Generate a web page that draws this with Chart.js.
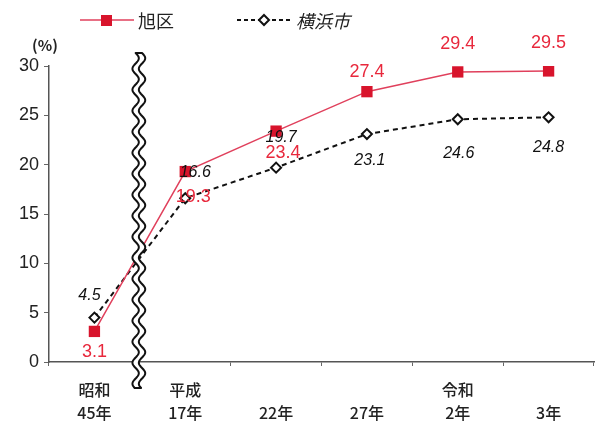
<!DOCTYPE html>
<html>
<head>
<meta charset="utf-8">
<script src="https://cdn.jsdelivr.net/npm/chart.js@4"></script>
<style>
  html, body { margin: 0; padding: 0; background: #fff; }
  #chart { display: block; }
</style>
</head>
<body>
<canvas id="chart" width="602" height="426"></canvas>
<script>
const categories = [['昭和', '45年'], ['平成', '17年'], ['', '22年'], ['', '27年'], ['令和', '2年'], ['', '3年']];
const asahiValues = [3.1, 19.3, 23.4, 27.4, 29.4, 29.5];
const yokohamaValues = [4.5, 16.6, 19.7, 23.1, 24.6, 24.8];
const seriesNames = ['旭区', '横浜市'];
const yTickStep = 5;
const yMax = 30;

// label nudges (px) so the value labels sit where the original puts them
const asahiLabelOffsets = [[0, 21], [8, 25], [7, 22], [0, -20], [0, -28], [0, -28]];
const yokohamaLabelOffsets = [[-5, -22], [10, -26], [5, -30], [3, 26], [1, 34], [0, 30]];

const RED = '#d8142c';
const RED_LINE = '#e0405c';
const RED_TEXT = '#e8283c';
const NUM_FONT = "'Liberation Sans', 'Noto Sans CJK JP', sans-serif";
const JP_FONT = "'Noto Sans CJK JP', 'Liberation Sans', sans-serif";

const extrasPlugin = {
  id: 'extras',
  afterDatasetsDraw(chart) {
    const ctx = chart.ctx;
    const x = chart.scales.x;

    // broken-axis wavy band between the first two categories
    const bx = (x.getPixelForValue(0) + x.getPixelForValue(1)) / 2 - 1;
    const top = 53, bottom = 388, amp = 3.2, period = 21, gap = 3.2;
    const wave = (y, side) => bx + side * gap + amp * Math.sin((y - top) / period * 2 * Math.PI);
    ctx.save();
    ctx.beginPath();
    for (let y = top; y <= bottom; y += 1) ctx.lineTo(wave(y, -1), y);
    for (let y = bottom; y >= top; y -= 1) ctx.lineTo(wave(y, 1), y);
    ctx.closePath();
    ctx.fillStyle = '#fff';
    ctx.fill();
    ctx.lineWidth = 2;
    ctx.lineJoin = 'round';
    ctx.strokeStyle = '#111';
    ctx.stroke();
    ctx.restore();

    // value labels
    const drawLabels = (dsIndex, values, offsets, color, font) => {
      const meta = chart.getDatasetMeta(dsIndex);
      ctx.save();
      ctx.fillStyle = color;
      ctx.font = font;
      ctx.textAlign = 'center';
      ctx.textBaseline = 'middle';
      meta.data.forEach((pt, i) => {
        ctx.fillText(values[i].toFixed(1), pt.x + offsets[i][0], pt.y + offsets[i][1]);
      });
      ctx.restore();
    };
    drawLabels(0, asahiValues, asahiLabelOffsets, RED_TEXT, '18px ' + NUM_FONT);
    drawLabels(1, yokohamaValues, yokohamaLabelOffsets, '#111', 'italic 16px ' + NUM_FONT);
  },
  afterDraw(chart) {
    const ctx = chart.ctx;
    ctx.save();
    // unit
    ctx.fillStyle = '#222';
    ctx.font = 'bold 15px ' + JP_FONT;
    ctx.textAlign = 'center';
    ctx.textBaseline = 'middle';
    ctx.fillText('(%)', 45, 45);

    // legend: 旭区
    const ly = 20;
    ctx.strokeStyle = RED_LINE;
    ctx.lineWidth = 1.5;
    ctx.beginPath(); ctx.moveTo(80, ly); ctx.lineTo(134, ly); ctx.stroke();
    ctx.fillStyle = RED;
    ctx.fillRect(101, ly - 5, 11, 11);
    ctx.fillStyle = '#222';
    ctx.font = '18px ' + JP_FONT;
    ctx.textAlign = 'left';
    ctx.fillText(seriesNames[0], 138, ly + 1);

    // legend: 横浜市
    ctx.strokeStyle = '#111';
    ctx.lineWidth = 2;
    ctx.setLineDash([4, 3]);
    ctx.beginPath(); ctx.moveTo(237, ly); ctx.lineTo(291, ly); ctx.stroke();
    ctx.setLineDash([]);
    ctx.beginPath();
    ctx.moveTo(264, ly - 5); ctx.lineTo(269, ly); ctx.lineTo(264, ly + 5); ctx.lineTo(259, ly);
    ctx.closePath();
    ctx.fillStyle = '#fff';
    ctx.fill();
    ctx.stroke();
    ctx.fillStyle = '#222';
    ctx.font = 'italic 18px ' + JP_FONT;
    ctx.fillText(seriesNames[1], 296, ly + 1);
    ctx.restore();
  }
};

const ctx = document.getElementById('chart').getContext('2d');
new Chart(ctx, {
  type: 'line',
  data: {
    labels: categories,
    datasets: [
      {
        label: seriesNames[0],
        data: asahiValues,
        borderColor: RED_LINE,
        borderWidth: 1.5,
        pointStyle: 'rect',
        pointRadius: 8,
        pointBackgroundColor: RED,
        pointBorderColor: RED,
        pointBorderWidth: 0,
        tension: 0
      },
      {
        label: seriesNames[1],
        data: yokohamaValues,
        borderColor: '#111',
        borderWidth: 2,
        borderDash: [5, 4],
        pointStyle: 'rectRot',
        pointRadius: 5,
        pointBackgroundColor: '#fff',
        pointBorderColor: '#111',
        pointBorderWidth: 2,
        tension: 0
      }
    ]
  },
  options: {
    responsive: false,
    animation: false,
    layout: { padding: { top: 66, right: 0, left: 0, bottom: 0 } },
    plugins: {
      legend: { display: false },
      tooltip: { enabled: false }
    },
    scales: {
      x: {
        type: 'category',
        offset: true,
        grid: { display: true, offset: true, drawOnChartArea: false, tickLength: 4, color: '#666' },
        border: { color: '#555', width: 1.5 },
        ticks: {
          color: '#222',
          font: { size: 16, weight: '500', family: JP_FONT, lineHeight: 1.45 },
          padding: 12,
          maxRotation: 0,
          autoSkip: false
        },
        afterFit(scale) { scale.height = 64; }
      },
      y: {
        min: 0,
        max: yMax,
        grid: { display: true, drawOnChartArea: false, tickLength: 5, color: '#666' },
        border: { color: '#555', width: 1.5 },
        ticks: {
          stepSize: yTickStep,
          color: '#222',
          font: { size: 18, family: NUM_FONT },
          padding: 5
        },
        afterFit(scale) { scale.width = 49; }
      }
    }
  },
  plugins: [extrasPlugin]
});
</script>
</body>
</html>
